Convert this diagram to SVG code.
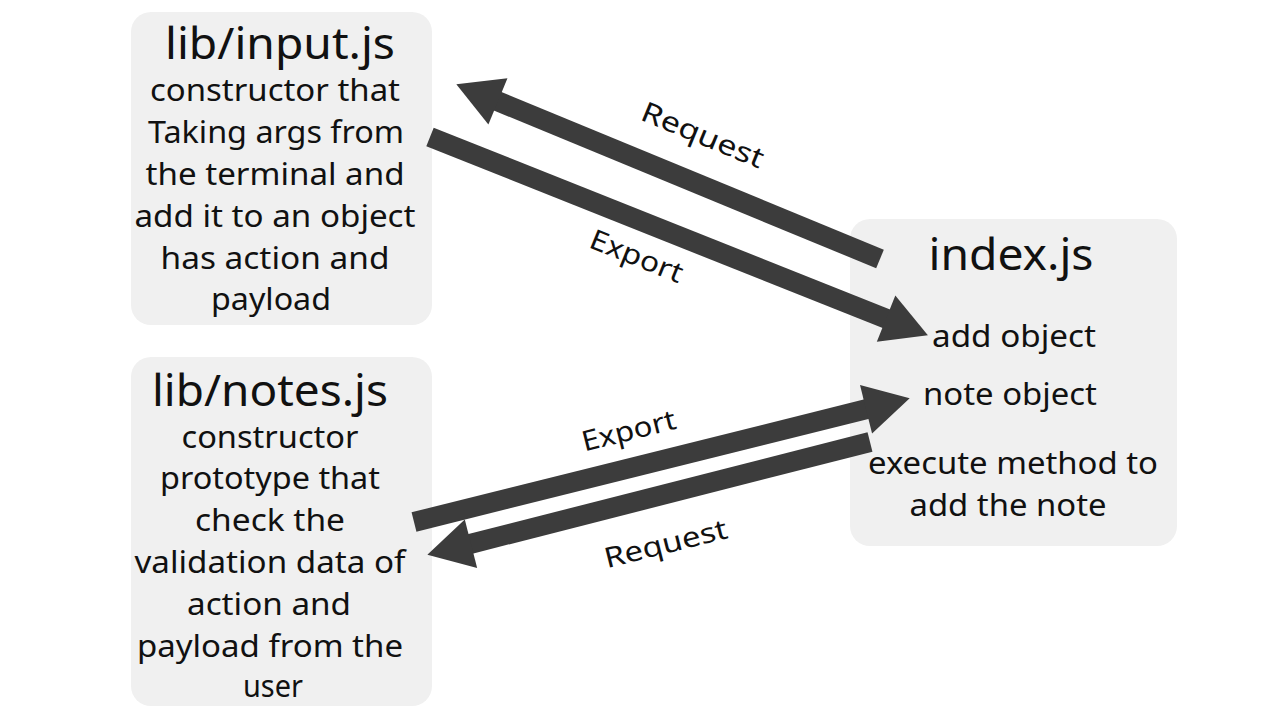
<svg xmlns="http://www.w3.org/2000/svg" width="1280" height="720" viewBox="0 0 1280 720">
<style>
.box{fill:#f0f0f0;}
.t{font-family:"Noto Sans","DejaVu Sans",sans-serif;fill:#111;text-anchor:middle;}
.h{font-size:43px;}
.b{font-size:30px;}
.l{font-size:28px;}
.arr{stroke:#3c3c3c;stroke-width:20;fill:none;marker-end:url(#ah);}
</style>
<defs>
<marker id="ah" markerUnits="strokeWidth" markerWidth="2.3" markerHeight="2.6" refX="0.05" refY="1.25" orient="auto" overflow="visible">
<path d="M0,0 L2.25,1.25 L0,2.5 z" fill="#3c3c3c"/>
</marker>
</defs>
<rect width="1280" height="720" fill="#fff"/>
<g id="input">
<rect class="box" x="131" y="12" width="301" height="313" rx="20"/>
<text class="t h" x="280" y="59" textLength="230" lengthAdjust="spacingAndGlyphs">lib/input.js</text>
<text class="t b" x="275" y="101" textLength="250" lengthAdjust="spacingAndGlyphs">constructor that</text>
<text class="t b" x="276" y="143" textLength="256" lengthAdjust="spacingAndGlyphs">Taking args from</text>
<text class="t b" x="275" y="185" textLength="259" lengthAdjust="spacingAndGlyphs">the terminal and</text>
<text class="t b" x="275" y="227" textLength="281" lengthAdjust="spacingAndGlyphs">add it to an object</text>
<text class="t b" x="275" y="269" textLength="229" lengthAdjust="spacingAndGlyphs">has action and</text>
<text class="t b" x="271" y="310" textLength="120" lengthAdjust="spacingAndGlyphs">payload</text>
</g>
<g id="notes">
<rect class="box" x="131" y="357" width="301" height="349" rx="20"/>
<text class="t h" x="270" y="406" textLength="236" lengthAdjust="spacingAndGlyphs">lib/notes.js</text>
<text class="t b" x="270" y="448" textLength="177" lengthAdjust="spacingAndGlyphs">constructor</text>
<text class="t b" x="270" y="489" textLength="220" lengthAdjust="spacingAndGlyphs">prototype that</text>
<text class="t b" x="270" y="531" textLength="150" lengthAdjust="spacingAndGlyphs">check the</text>
<text class="t b" x="270" y="573" textLength="271" lengthAdjust="spacingAndGlyphs">validation data of</text>
<text class="t b" x="269" y="615" textLength="164" lengthAdjust="spacingAndGlyphs">action and</text>
<text class="t b" x="270" y="657" textLength="266" lengthAdjust="spacingAndGlyphs">payload from the</text>
<text class="t b" x="273" y="697" textLength="60" lengthAdjust="spacingAndGlyphs">user</text>
</g>
<g id="index">
<rect class="box" x="850" y="219" width="327" height="327" rx="20"/>
<text class="t h" x="1011" y="270" textLength="165" lengthAdjust="spacingAndGlyphs">index.js</text>
<text class="t b" x="1014" y="347" textLength="164" lengthAdjust="spacingAndGlyphs">add object</text>
<text class="t b" x="1010" y="405" textLength="174" lengthAdjust="spacingAndGlyphs">note object</text>
<text class="t b" x="1013" y="474" textLength="290" lengthAdjust="spacingAndGlyphs">execute method to</text>
<text class="t b" x="1008" y="516" textLength="197" lengthAdjust="spacingAndGlyphs">add the note</text>
</g>
<g id="connectors">
<line class="arr" x1="880" y1="259" x2="497" y2="101"/>
<line class="arr" x1="430" y1="137" x2="887" y2="319"/>
<line class="arr" x1="414" y1="522" x2="867" y2="409"/>
<line class="arr" x1="870" y1="442" x2="470" y2="544"/>
<text class="t l" transform="translate(699,144) rotate(22.4)" textLength="130" lengthAdjust="spacingAndGlyphs">Request</text>
<text class="t l" transform="translate(633,265) rotate(22)" textLength="98" lengthAdjust="spacingAndGlyphs">Export</text>
<text class="t l" transform="translate(631,440) rotate(-14)" textLength="96" lengthAdjust="spacingAndGlyphs">Export</text>
<text class="t l" transform="translate(668,553) rotate(-14)" textLength="126" lengthAdjust="spacingAndGlyphs">Request</text>
</g>
</svg>
